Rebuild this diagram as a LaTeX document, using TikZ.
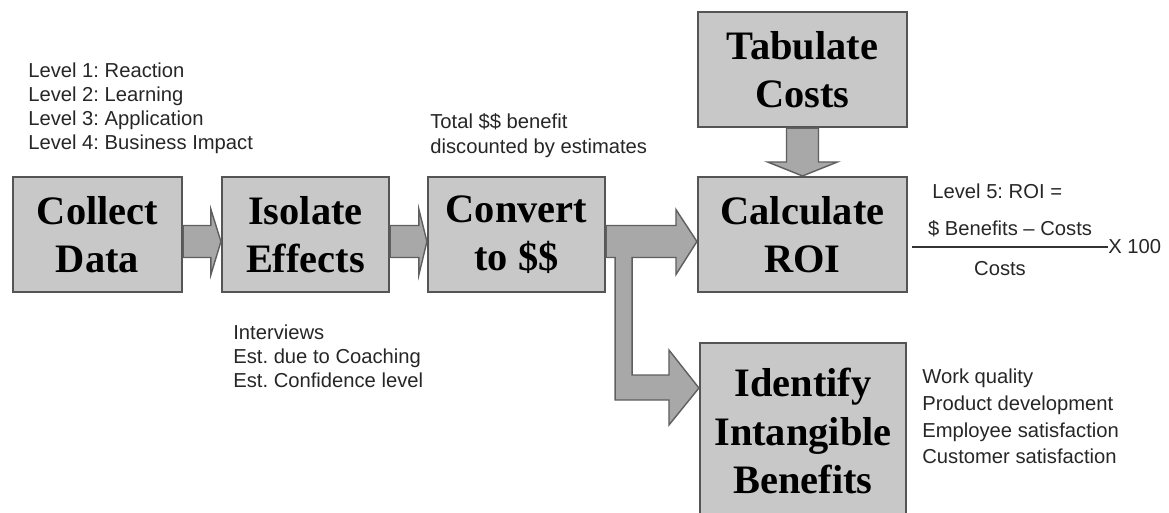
\documentclass[tikz,border=0pt]{standalone}
\usepackage{fontspec}
\setmainfont{Liberation Serif}
\setsansfont{Liberation Sans}
\usepackage{tikz}
\usetikzlibrary{calc}
\frenchspacing
\definecolor{boxgray}{RGB}{200,200,200}
\definecolor{boxedge}{RGB}{85,85,85}
\definecolor{arrowgray}{RGB}{168,168,168}
\definecolor{arrowedge}{RGB}{95,95,95}
\tikzstyle{bigbox}=[rectangle,draw=boxedge,fill=boxgray,line width=1.2pt,align=center,inner sep=0pt,font=\fontsize{23}{27.5}\selectfont\bfseries]
\tikzstyle{blockarrow}=[draw=arrowedge,fill=arrowgray,line width=0.8pt,line join=miter]
\tikzstyle{note}=[anchor=base west,inner sep=0pt,text=black!85,font=\sffamily\fontsize{11.5}{13.5}\selectfont]

\begin{document}
\begin{tikzpicture}[x=0.02cm,y=-0.02cm]
  \useasboundingbox (0,0) rectangle (1169,512);

  % boxes
  \foreach \x/\y/\w/\h/\name/\label in {97.5/234.5/169/115/collect/{Collect\\Data},
        305.5/234.5/167/115/isolate/{Isolate\\Effects},
        516.5/234.5/177/115/convert/{Convert\\to \$\$},
        802.5/234.5/209/115/calc/{Calculate\\ROI},
        802.5/69.5/209/115/tabulate/{Tabulate\\Costs},
        803/431/206/176/identify/{Identify\\Intangible\\Benefits}}
    \node[bigbox,minimum width=\w*0.02cm,minimum height=\h*0.02cm] (\name) at (\x,\y) {\label};

  % block arrows
  \foreach \source/\dest/\hl in {collect/isolate/10, isolate/convert/8}
    \path[blockarrow] ($(\source.east)+(0,-9)$) -- ($(\dest.west)+(-\hl,-9)$)
      -- ($(\dest.west)+(-\hl,-25)$) -- ($(\dest.west)+(0,7)$) -- ($(\dest.west)+(-\hl,40)$)
      -- ($(\dest.west)+(-\hl,23)$) -- ($(\source.east)+(0,23)$) -- cycle;

  \path[blockarrow] ($(convert.east)+(0,-9)$) -- ($(calc.west)+(-21,-9)$)
    -- ($(calc.west)+(-21,-25)$) -- ($(calc.west)+(0,7)$) -- ($(calc.west)+(-21,40)$)
    -- ($(calc.west)+(-21,23)$) -- ($(convert.east)+(26,23)$)
    -- ($(convert.east |- identify.west)+(26,-56)$) -- ($(identify.west)+(-30,-56)$)
    -- ($(identify.west)+(-30,-81)$) -- ($(identify.west)+(0,-43)$) -- ($(identify.west)+(-30,-6)$)
    -- ($(identify.west)+(-30,-31)$) -- ($(convert.east |- identify.west)+(9,-31)$)
    -- ($(convert.east)+(9,23)$) -- ($(convert.east)+(0,23)$) -- cycle;

  \path[blockarrow] ($(tabulate.south)+(-16,0)$) -- ($(calc.north)+(-16,-14)$)
    -- ($(calc.north)+(-35,-14)$) -- (calc.north) -- ($(calc.north)+(35,-14)$)
    -- ($(calc.north)+(16,-14)$) -- ($(tabulate.south)+(16,0)$) -- cycle;

  % notes (baselines)
  \foreach \x/\y/\name/\label in {28/77/lvlA/{Level 1: Reaction}, 28/101/lvlB/{Level 2: Learning},
        28/125/lvlC/{Level 3: Application}, 28/149/lvlD/{Level 4: Business Impact},
        430/128/totA/{Total \$\$ benefit}, 430/153/totB/{discounted by estimates},
        233/339/estA/{Interviews}, 233/363/estB/{Est. due to Coaching}, 233/387/estC/{Est. Confidence level},
        922/383/intA/{Work quality}, 922/410/intB/{Product development},
        922/437/intC/{Employee satisfaction}, 922/463/intD/{Customer satisfaction},
        932/198/roi/{Level 5: ROI =}}
    \node[note] (\name) at (\x,\y) {\label};

  \node[note,anchor=base] (num) at (1010,235) {\$ Benefits -- Costs};
  \node[note,anchor=base] (den) at (1000,275) {Costs};
  \node[note,anchor=west] (times) at (1108,247) {X 100};
  \coordinate (fracL) at (912,247);
  \draw[black!80,line width=0.7pt] (fracL) -- (times.west);

\end{tikzpicture}
\end{document}
